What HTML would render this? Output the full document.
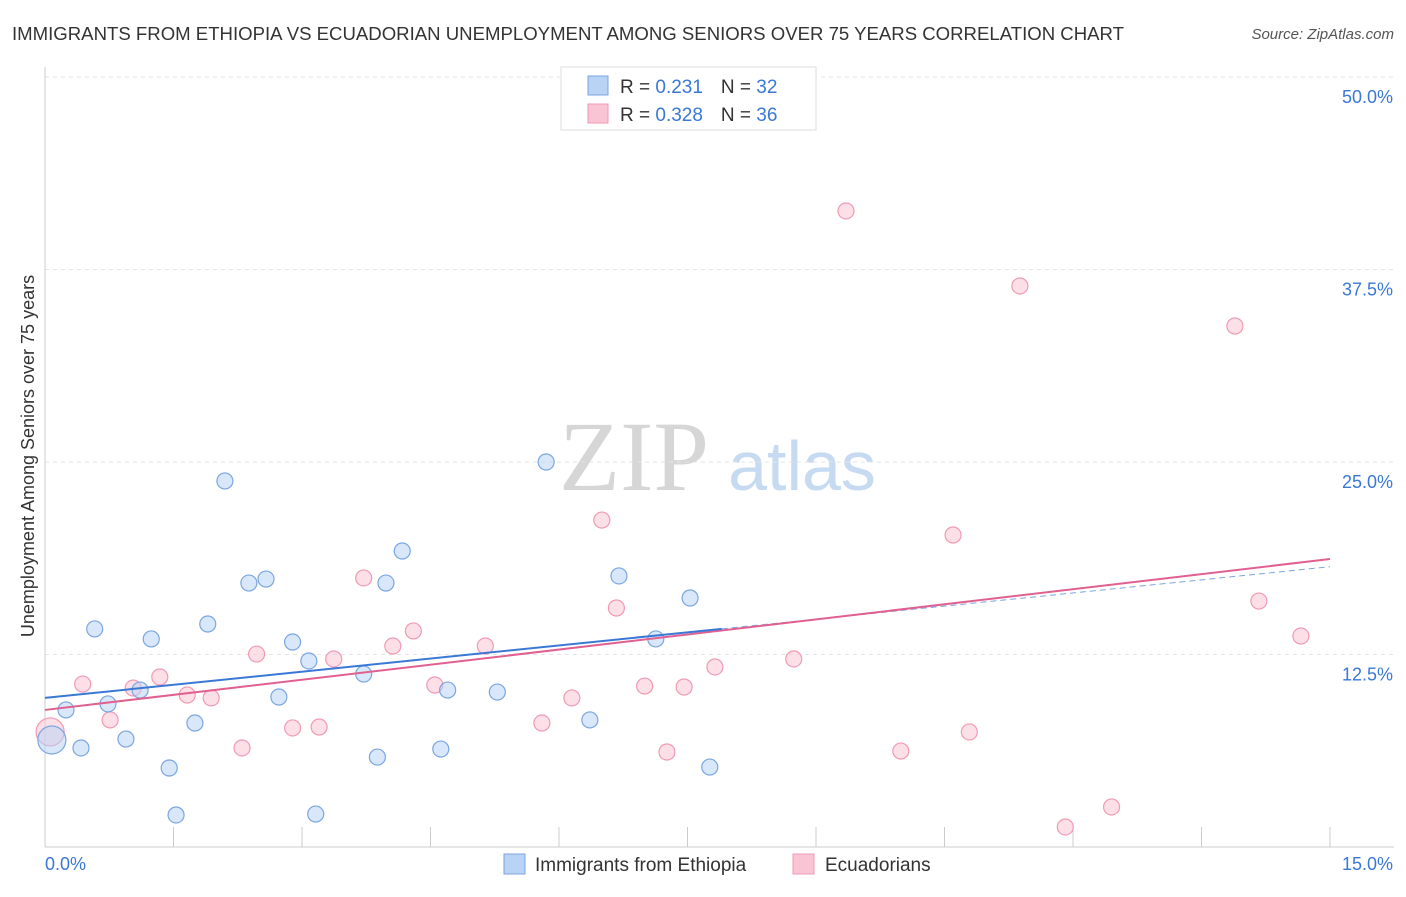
<!DOCTYPE html>
<html><head><meta charset="utf-8"><style>
body{margin:0;background:#fff;font-family:"Liberation Sans",sans-serif}
svg text{font-family:"Liberation Sans",sans-serif}
</style></head><body>
<svg id="c" width="1406" height="892" viewBox="0 0 1406 892">
<text x="12" y="40" font-size="18" fill="#333" textLength="1112" lengthAdjust="spacingAndGlyphs">IMMIGRANTS FROM ETHIOPIA VS ECUADORIAN UNEMPLOYMENT AMONG SENIORS OVER 75 YEARS CORRELATION CHART</text>
<text x="1394" y="39" font-size="15" fill="#555" font-style="italic" text-anchor="end">Source: ZipAtlas.com</text>
<g>
<text x="634" y="490" font-size="100" fill="#d6d6d6" style="font-family:'Liberation Serif',serif" text-anchor="middle">ZIP</text>
<text x="802" y="490" font-size="70" fill="#c6daf2" text-anchor="middle">atlas</text>
</g>
<g id="grid"></g><g id="axes"></g><g id="marks"></g>
<g>
<rect x="561" y="67" width="255" height="63" fill="#fff" stroke="#ddd"/>
<rect x="588" y="76" width="20" height="19" fill="#b9d3f5" stroke="#7aa6e0"/>
<rect x="588" y="104" width="20" height="19" fill="#f9c4d4" stroke="#f09ab5"/>
<text x="620" y="93" font-size="19" fill="#333">R = <tspan fill="#3a78d6"> 0.231</tspan><tspan dx="18">N = </tspan><tspan fill="#3a78d6">32</tspan></text>
<text x="620" y="121" font-size="19" fill="#333">R = <tspan fill="#3a78d6">0.328</tspan><tspan dx="18">N = </tspan><tspan fill="#3a78d6">36</tspan></text>
</g>
<g>
<rect x="504" y="854" width="21" height="20" fill="#b9d3f5" stroke="#7aa6e0"/>
<text x="535" y="871" font-size="19" fill="#333">Immigrants from Ethiopia</text>
<rect x="793" y="854" width="21" height="20" fill="#f9c4d4" stroke="#f09ab5"/>
<text x="825" y="871" font-size="19" fill="#333">Ecuadorians</text>
</g>
<text transform="translate(34,456) rotate(-90)" font-size="18" fill="#333" text-anchor="middle">Unemployment Among Seniors over 75 years</text>
</svg>
<script>
const blueX=[0.08,0.245,0.42,0.58,0.735,0.945,1.11,1.24,1.45,1.53,1.75,1.90,2.10,2.38,2.58,2.73,2.89,3.08,3.16,3.72,3.88,3.98,4.17,4.62,4.70,5.28,5.85,6.36,6.70,7.13,7.53,7.76];
const blueY=[6.95,8.9,6.43,14.16,9.29,7.01,10.19,13.51,5.13,2.08,8.05,14.48,23.77,17.14,17.40,9.74,13.31,12.08,2.14,11.23,5.84,17.14,19.22,6.36,10.19,10.06,25.0,8.25,17.60,13.51,16.17,5.19];
const pinkX=[0.06,0.44,0.76,1.03,1.34,1.66,1.94,2.30,2.47,2.89,3.20,3.37,3.72,4.06,4.30,4.55,5.14,5.80,6.15,6.50,6.67,7.00,7.26,7.46,7.82,8.74,9.35,9.99,10.60,10.79,11.38,11.91,12.45,13.89,14.17,14.66];
const pinkY=[7.47,10.58,8.25,10.32,11.04,9.87,9.68,6.43,12.53,7.73,7.79,12.21,17.47,13.05,14.03,10.52,13.05,8.05,9.68,21.23,15.52,10.45,6.17,10.39,11.69,12.21,41.30,6.23,20.26,7.47,36.43,1.30,2.60,33.83,15.97,13.70];
const blueTrend=[9.68,18.2];const pinkTrend=[8.9,18.7];
const yTicks=[12.5,25,37.5,50];const yTickLabels=["12.5%","25.0%","37.5%","50.0%"];
const xTicks=[0,1.5,3,4.5,6,7.5,9,10.5,12,13.5,15];
const NS="http://www.w3.org/2000/svg";
const X=v=>45+v/15*1285, Y=v=>847-v/50*770;
function mk(t,a,p){const e=document.createElementNS(NS,t);for(const k in a)e.setAttribute(k,a[k]);p.appendChild(e);return e;}
const grid=document.getElementById('grid'),axes=document.getElementById('axes'),marks=document.getElementById('marks');
yTicks.forEach((t,i)=>{const l=mk('line',{x1:45,x2:1394,y1:Y(t),y2:Y(t),stroke:'#e4e4e4','stroke-dasharray':'4,4'},grid);

const tx=mk('text',{x:1393,y:Y(t)+26,'font-size':18,fill:'#3a78d6','text-anchor':'end'},axes);tx.textContent=yTickLabels[i];
});
let a=mk('line',{x1:45,x2:45,y1:67,y2:847,stroke:'#ccc'},axes);
a=mk('line',{x1:45,x2:1394,y1:847,y2:847,stroke:'#ccc'},axes);
xTicks.forEach(t=>{const l=mk('line',{x1:X(t),x2:X(t),y1:827,y2:847,stroke:'#ccc'},axes);});
let t1=mk('text',{x:45,y:870,'font-size':18,fill:'#3a78d6'},axes);t1.textContent="0.0%";
t1=mk('text',{x:1393,y:870,'font-size':18,fill:'#3a78d6','text-anchor':'end'},axes);t1.textContent="15.0%";
function pts(xs,ys,fill,stroke,name){xs.forEach((x,i)=>{const r=(i===0)?14:8;const c=mk('circle',{cx:X(x),cy:Y(ys[i]),r:r,fill:fill,'fill-opacity':0.55,stroke:stroke,'stroke-width':1.2},marks);
});}
pts(pinkX,pinkY,'#f9c4d4','#f09ab5','ecuadorians-point');
pts(blueX,blueY,'#b9d3f5','#7aa6e0','ethiopia-point');
const bAt=x=>blueTrend[0]+(blueTrend[1]-blueTrend[0])*x/15;
let l=mk('line',{x1:X(7.9),y1:Y(bAt(7.9)),x2:X(15),y2:Y(bAt(15)),stroke:'#7aa6e0','stroke-width':1,'stroke-dasharray':'6,4'},marks);
l=mk('line',{x1:X(0),y1:Y(pinkTrend[0]),x2:X(15),y2:Y(pinkTrend[1]),stroke:'#e06090','stroke-width':2},marks);
l=mk('line',{x1:X(0),y1:Y(bAt(0)),x2:X(7.9),y2:Y(bAt(7.9)),stroke:'#3a78d6','stroke-width':2},marks);
</script>
</body></html>
